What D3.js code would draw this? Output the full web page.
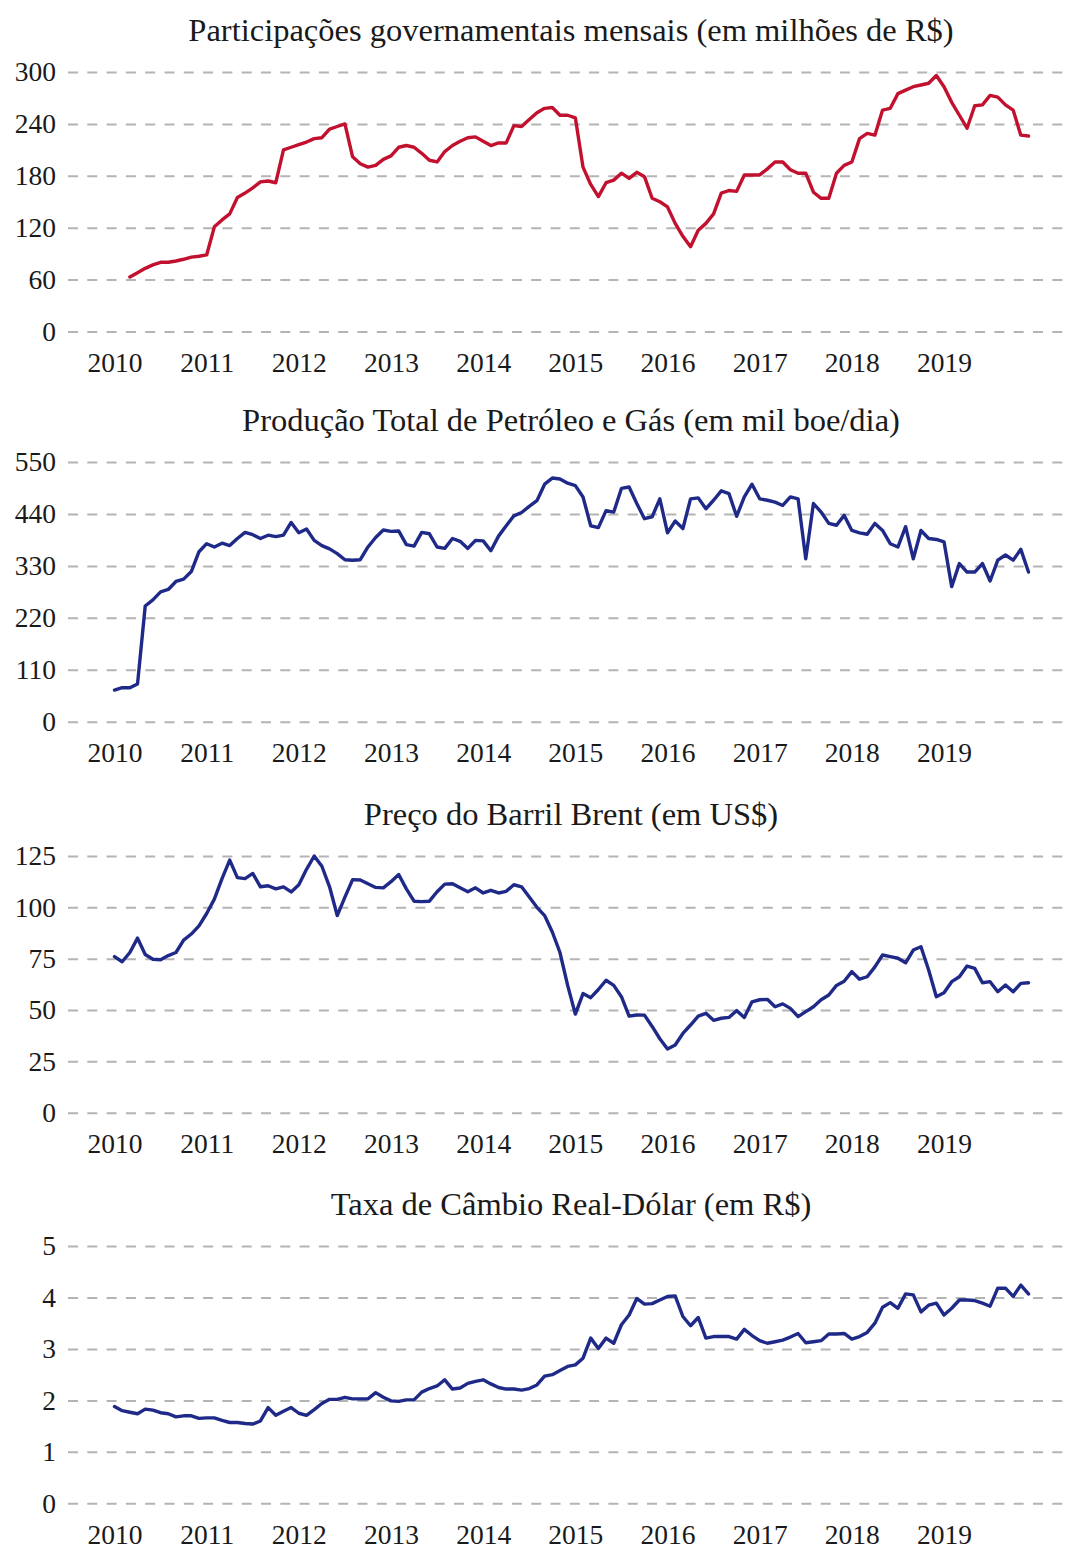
<!DOCTYPE html>
<html>
<head>
<meta charset="utf-8">
<script src="https://cdn.jsdelivr.net/npm/d3@7"></script>
<style>
  html, body { margin: 0; padding: 0; background: #ffffff; }
  svg { display: block; }
  text { font-family: "Liberation Serif", "Times New Roman", serif; fill: #1a1a1a; }
</style>
</head>
<body>
<svg id="chart" width="1065" height="1550"></svg>
<script>
// ---------- DATA (monthly, Jan 2010 .. Dec 2019) ----------
const years = ["2010","2011","2012","2013","2014","2015","2016","2017","2018","2019"];

const titles = [
  "Participações governamentais mensais (em milhões de R$)",
  "Produção Total de Petróleo e Gás (em mil boe/dia)",
  "Preço do Barril Brent (em US$)",
  "Taxa de Câmbio Real-Dólar (em R$)"
];

const ticksParticipacoes = [0, 60, 120, 180, 240, 300];
const ticksProducao = [0, 110, 220, 330, 440, 550];
const ticksBrent = [0, 25, 50, 75, 100, 125];
const ticksCambio = [0, 1, 2, 3, 4, 5];

const participacoes = [
  null,null,63,68,73,77,80,80,81.5,83.5,86,87,
  88.5,121,129,136,155,160,166,173,174,172,210,213,
  216,219,223,224,234,237,240,202,194,190,192,199,
  203,213,215,213,206,198,196,208,215,220,224,225,
  220,215,218,218,238,237,245,253,258,259,250,250,
  247,190,170,156,172,175,183,177,184,179,154,150,
  144,125,110,98,117,125,136,160,163,162,181,181,
  181,188,196,196,187,183,183,161,154,154,183,192,
  196,223,229,227,256,258,275,279,283,285,287,296,
  283,265,250,235,261,262,273,271,262,256,227,226
];

const producao = [
  67,72,72,80,245,258,275,280,297,302,318,360,
  377,370,378,373,388,401,396,388,395,392,395,422,
  400,408,384,373,366,356,343,342,343,370,390,406,
  403,404,375,372,401,398,370,367,388,382,367,384,
  383,362,393,415,436,443,456,468,503,516,514,505,
  500,476,415,411,447,444,494,497,462,430,434,472,
  400,425,409,472,474,451,469,489,483,435,476,503,
  472,469,465,458,476,472,345,462,444,420,416,437,
  405,400,397,420,405,377,370,413,345,405,388,386,
  381,286,335,317,317,335,298,342,353,342,365,317
];

const brent = [
  76,73.5,78,85,77,74.7,74.5,76.5,78,84,87,91,
  97,104,114,123,114.5,114,116.5,110,110.5,109,110,107.5,
  111,118.5,125,120,110,96,105,113.5,113.3,111.5,109.7,109.5,
  112.5,116,109,103,102.8,103,107.6,111.3,111.5,109.5,107.6,109.5,
  107,108.3,107,107.8,111,110,105,100,96,88,78,62,
  48,58,56,60,64.5,62,56.5,47,47.6,47.5,42,36,
  31,33,38.6,42.7,47,48.4,45,46,46.4,49.7,46.4,54,
  55,55.2,51.6,53,50.8,46.8,49.2,51.6,55,57.3,62,64,
  68.7,65,66.2,71,76.8,76,75.2,73,79.2,80.8,69.5,56.5,
  58.4,63.8,66.2,71.4,70.3,63.3,63.8,58.9,62.2,58.9,63,63.3
];

const cambio = [
  1.88,1.80,1.77,1.74,1.83,1.81,1.76,1.74,1.68,1.70,1.70,1.65,
  1.66,1.66,1.61,1.57,1.57,1.55,1.54,1.60,1.86,1.71,1.79,1.86,
  1.75,1.71,1.82,1.94,2.02,2.02,2.06,2.03,2.03,2.03,2.15,2.06,
  1.99,1.98,2.01,2.01,2.16,2.23,2.28,2.40,2.22,2.24,2.33,2.37,
  2.40,2.32,2.25,2.22,2.22,2.20,2.23,2.30,2.47,2.50,2.58,2.66,
  2.69,2.82,3.21,3.01,3.21,3.11,3.47,3.66,3.98,3.87,3.88,3.95,
  4.02,4.03,3.63,3.45,3.61,3.21,3.24,3.24,3.24,3.19,3.38,3.26,
  3.16,3.11,3.14,3.17,3.23,3.30,3.12,3.14,3.16,3.29,3.29,3.30,
  3.19,3.24,3.32,3.50,3.81,3.90,3.79,4.07,4.05,3.72,3.85,3.89,
  3.66,3.79,3.95,3.95,3.94,3.89,3.83,4.18,4.18,4.02,4.24,4.07
];

// ---------- LAYOUT ----------
const svg = d3.select("#chart");
const W = 1065;
const gridLeft = 68;
const red = "#c2102f";
const blue = "#1f2a88";

const panels = [
  { title: titles[0], values: participacoes, ticks: ticksParticipacoes, top: 72,   bottom: 331.5, color: red },
  { title: titles[1], values: producao,      ticks: ticksProducao,      top: 462,  bottom: 721.7, color: blue },
  { title: titles[2], values: brent,         ticks: ticksBrent,         top: 856,  bottom: 1112.7, color: blue },
  { title: titles[3], values: cambio,        ticks: ticksCambio,        top: 1246, bottom: 1503.3, color: blue }
];

const x = d3.scaleLinear().domain([0, 119]).range([114.5, 1028.5]);

panels.forEach(p => {
  const g = svg.append("g");
  const y = d3.scaleLinear()
    .domain([0, d3.max(p.ticks)])
    .range([p.bottom, p.top]);

  // title
  g.append("text")
    .attr("x", 571)
    .attr("y", p.top - 31)
    .attr("text-anchor", "middle")
    .style("font-size", "32.5px")
    .text(p.title);

  // y axis with dashed grid
  const yAxis = d3.axisLeft(y)
    .tickValues(p.ticks)
    .tickSize(-(W - gridLeft))
    .tickPadding(12)
    .tickFormat(d3.format("d"));
  const ya = g.append("g")
    .attr("transform", `translate(${gridLeft},0)`)
    .call(yAxis);
  ya.select(".domain").remove();
  ya.selectAll(".tick line")
    .attr("stroke", "#b4b4b4")
    .attr("stroke-width", 2)
    .attr("stroke-dasharray", "10,9.3");
  ya.selectAll(".tick text")
    .style("font-size", "27.5px")
    .style("font-family", "'Liberation Serif', 'Times New Roman', serif")
    .attr("fill", "#1a1a1a");

  // x axis labels
  const xAxis = d3.axisBottom(x)
    .tickValues(d3.range(0, 120, 12))
    .tickSize(0)
    .tickPadding(21)
    .tickFormat((d, i) => years[i]);
  const xa = g.append("g")
    .attr("transform", `translate(0,${p.bottom})`)
    .call(xAxis);
  xa.select(".domain").remove();
  xa.selectAll(".tick text")
    .style("font-size", "27.5px")
    .style("font-family", "'Liberation Serif', 'Times New Roman', serif")
    .attr("fill", "#1a1a1a");

  // line
  const line = d3.line()
    .defined(d => d != null)
    .x((d, i) => x(i))
    .y(d => y(d));
  g.append("path")
    .datum(p.values)
    .attr("fill", "none")
    .attr("stroke", p.color)
    .attr("stroke-width", 3.4)
    .attr("stroke-linejoin", "round")
    .attr("stroke-linecap", "round")
    .attr("d", line);
});
</script>
</body>
</html>
